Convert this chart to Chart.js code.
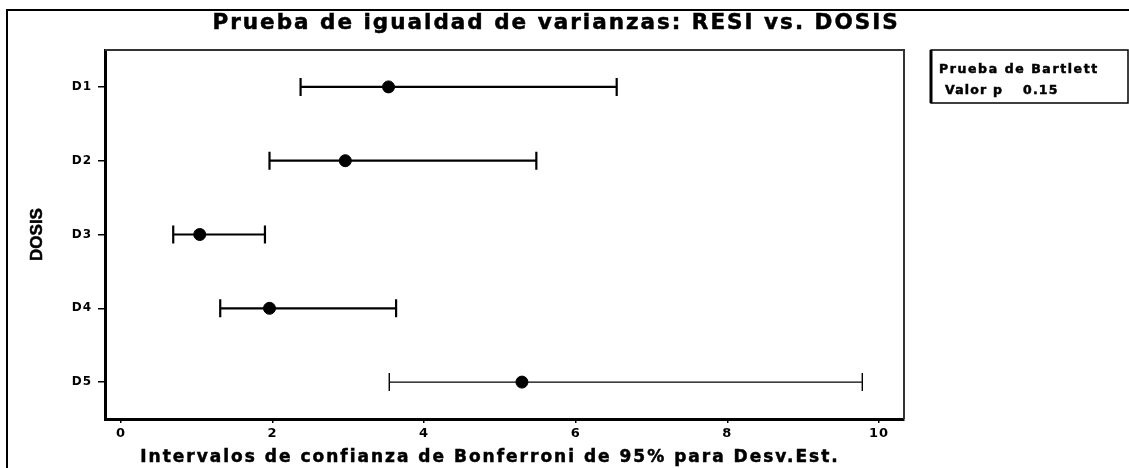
<!DOCTYPE html>
<html>
<head>
<meta charset="utf-8">
<script src="https://cdn.jsdelivr.net/npm/chart.js@4.4.1/dist/chart.umd.min.js"></script>
<style>
  html, body { margin: 0; padding: 0; background: #fff; }
</style>
</head>
<body>
<canvas id="myChart" width="1129" height="468"></canvas>
<script>
// Datos (intervalos de Bonferroni 95% para Desv.Est.)
const dosis = ['D1', 'D2', 'D3', 'D4', 'D5'];
const desvEst = [3.53, 2.96, 1.04, 1.96, 5.29];
const limInf = [2.37, 1.96, 0.69, 1.31, 3.54];
const limSup = [6.54, 5.48, 1.90, 3.63, 9.78];
const xTicks = [0, 2, 4, 6, 8, 10];
const valorP = '0.15';

const fam = '"DejaVu Sans", Verdana, sans-serif';

// one line per interval, the caps are 'line' points turned 90 degrees
const intervalos = dosis.map(function(d, i) {
    const w = i === 4 ? 1.4 : 2.2;
    return {
        data: [{x: limInf[i], y: d}, {x: limSup[i], y: d}],
        showLine: true,
        borderColor: '#000',
        borderWidth: w,
        pointStyle: 'line',
        pointRotation: 90,
        pointRadius: 9,
        pointBorderWidth: w,
        pointBorderColor: '#000',
        pointBackgroundColor: '#000'
    };
});

const puntos = {
    data: dosis.map(function(d, i) { return {x: desvEst[i], y: d}; }),
    showLine: false,
    pointStyle: 'circle',
    pointRadius: 6,
    pointBackgroundColor: '#000',
    pointBorderColor: '#000',
    pointBorderWidth: 1
};

// heavy text, like the original screenshot
function texto(ctx, t, x, y, size, sp, face) {
    ctx.save();
    ctx.font = 'bold ' + size + 'px ' + (face || fam);
    ctx.letterSpacing = sp + 'px';
    ctx.fillStyle = '#000';
    ctx.strokeStyle = '#000';
    ctx.lineWidth = 0.5;
    ctx.fillText(t, x, y);
    ctx.strokeText(t, x, y);
    ctx.restore();
}

// frames, titles and the Bartlett box
const marcos = {
    id: 'marcos',
    beforeDraw(chart) {
        const ctx = chart.ctx;
        ctx.letterSpacing = '1px';
        ctx.save();
        ctx.fillStyle = '#fff';
        ctx.fillRect(0, 0, chart.width, chart.height);
        ctx.strokeStyle = '#000';
        ctx.lineWidth = 2;
        ctx.strokeRect(7, 10, chart.width + 20, chart.height + 20);
        ctx.restore();
    },
    afterDraw(chart) {
        const ctx = chart.ctx;
        const a = chart.chartArea;
        ctx.save();
        ctx.strokeStyle = '#333';
        ctx.lineWidth = 2;
        ctx.beginPath();
        ctx.moveTo(a.left, a.top);
        ctx.lineTo(a.right, a.top);
        ctx.lineTo(a.right, a.bottom);
        ctx.stroke();

        ctx.textAlign = 'center';
        ctx.textBaseline = 'middle';
        texto(ctx, 'Prueba de igualdad de varianzas: RESI vs. DOSIS', 556, 23, 21.5, 2);
        texto(ctx, 'Intervalos de confianza de Bonferroni de 95% para Desv.Est.', 490, 458, 17, 2);

        ctx.save();
        ctx.translate(37, (a.top + a.bottom) / 2);
        ctx.rotate(-Math.PI / 2);
        texto(ctx, 'DOSIS', 0, 0, 17, 0, '"Liberation Sans", Arial, sans-serif');
        ctx.restore();

        // Bartlett box
        const bx = a.right + 27, by = a.top, bw = 197, bh = 53;
        ctx.strokeStyle = '#000';
        ctx.lineWidth = 1.5;
        ctx.strokeRect(bx, by, bw, bh);
        ctx.lineWidth = 3;
        ctx.beginPath();
        ctx.moveTo(bx, by);
        ctx.lineTo(bx, by + bh);
        ctx.stroke();
        ctx.textAlign = 'left';
        texto(ctx, 'Prueba de Bartlett', bx + 8, by + 20, 12.5, 1.6);
        texto(ctx, 'Valor p', bx + 14, by + 41, 12.5, 1.2);
        texto(ctx, valorP, bx + 92, by + 41, 12.5, 1.2);
        ctx.restore();
    }
};

const ctx = document.getElementById('myChart').getContext('2d');

const myChart = new Chart(ctx, {
    type: 'scatter',
    data: {
        datasets: intervalos.concat([puntos])
    },
    options: {
        responsive: false,
        animation: false,
        devicePixelRatio: 1,
        layout: {
            padding: {left: 0, right: 225, top: 50, bottom: 0}
        },
        plugins: {
            legend: {display: false},
            title: {display: false},
            tooltip: {enabled: false}
        },
        scales: {
            x: {
                type: 'linear',
                min: -0.21,
                max: 10.33,
                afterBuildTicks: function(s) {
                    s.ticks = xTicks.map(function(v) { return {value: v}; });
                },
                afterFit: function(s) { s.height = 49; },
                border: {display: true, color: '#000', width: 3},
                grid: {drawOnChartArea: false, drawTicks: true, tickLength: 4, color: '#000', lineWidth: 1.5},
                ticks: {color: '#000', padding: 3, font: {family: fam, size: 13, weight: 'bold'}}
            },
            y: {
                type: 'category',
                labels: dosis,
                offset: true,
                afterFit: function(s) { s.width = 105; },
                border: {display: true, color: '#000', width: 3},
                grid: {drawOnChartArea: false, drawTicks: true, tickLength: 7, color: '#000', lineWidth: 1.5},
                ticks: {color: '#000', padding: 6, font: {family: fam, size: 12, weight: 'bold'}}
            }
        }
    },
    plugins: [marcos]
});
</script>
</body>
</html>
